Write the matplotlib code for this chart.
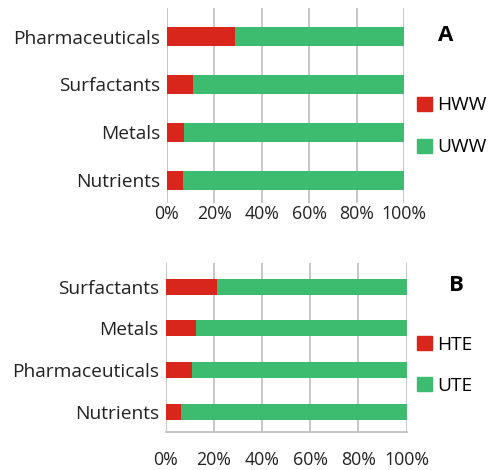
import matplotlib
matplotlib.use('Agg')
import matplotlib.pyplot as plt
from matplotlib.patches import Patch

plt.rcParams['font.family'] = ['Open Sans', 'DejaVu Sans']

cats_a = ['Nutrients', 'Metals', 'Surfactants', 'Pharmaceuticals']
hww = [6.6, 7.2, 11.1, 28.7]
uww = [100 - v for v in hww]

cats_b = ['Nutrients', 'Pharmaceuticals', 'Metals', 'Surfactants']
hte = [6.3, 10.8, 12.4, 21.4]
ute = [100 - v for v in hte]

ticks = [0, 20, 40, 60, 80, 100]
tick_labels = ['0%', '20%', '40%', '60%', '80%', '100%']

red = '#d8261d'
green = '#3dbb6f'
grid = '#bdbdbd'

fig = plt.figure(figsize=(4.91, 4.70), dpi=100)
ax1 = fig.add_axes([0.340, 0.568, 0.483, 0.415])
ax2 = fig.add_axes([0.3375, 0.0815, 0.4905, 0.3585])


def panel(ax, cats, h, u, height, ylim, pad, bottom_spine):
    y = range(len(cats))
    ax.barh(y, h, height=height, color=red, zorder=3)
    ax.barh(y, u, left=h, height=height, color=green, zorder=3)
    ax.set_yticks(list(y))
    ax.set_yticklabels(cats, fontsize=13.8, color='#222222')
    ax.set_xticks(ticks)
    ax.set_xticklabels(tick_labels, fontsize=12.8, color='#222222')
    ax.set_xlim(0, 100)
    ax.set_ylim(*ylim)
    ax.grid(axis='x', color=grid, linewidth=1.2, zorder=0)
    for s in ['top', 'right', 'left']:
        ax.spines[s].set_visible(False)
    if bottom_spine:
        ax.spines['bottom'].set_color(grid)
        ax.spines['bottom'].set_linewidth(1.2)
    else:
        ax.spines['bottom'].set_visible(False)
    ax.tick_params(axis='both', length=0)
    ax.tick_params(axis='x', pad=pad)
    ax.tick_params(axis='y', pad=5)


panel(ax1, cats_a, hww, uww, 0.4, (-0.48, 3.6), 1.5, False)
panel(ax2, cats_b, hte, ute, 0.38, (-0.47, 3.56), 14, True)

fig.text(0.908, 0.925, 'A', fontsize=16, fontweight='bold', ha='center', va='center')
fig.text(0.930, 0.393, 'B', fontsize=16, fontweight='bold', ha='center', va='center')

fig.legend(handles=[Patch(color=red, label='HWW'), Patch(color=green, label='UWW')],
           loc='center left', bbox_to_anchor=(0.842, 0.731), frameon=False,
           fontsize=13.8, handlelength=0.75, handleheight=0.75, handletextpad=0.3,
           labelspacing=1.25, borderpad=0.2, borderaxespad=0)
fig.legend(handles=[Patch(color=red, label='HTE'), Patch(color=green, label='UTE')],
           loc='center left', bbox_to_anchor=(0.842, 0.223), frameon=False,
           fontsize=13.8, handlelength=0.75, handleheight=0.75, handletextpad=0.3,
           labelspacing=1.2, borderpad=0.2, borderaxespad=0)

fig.savefig('out.png', dpi=100)
